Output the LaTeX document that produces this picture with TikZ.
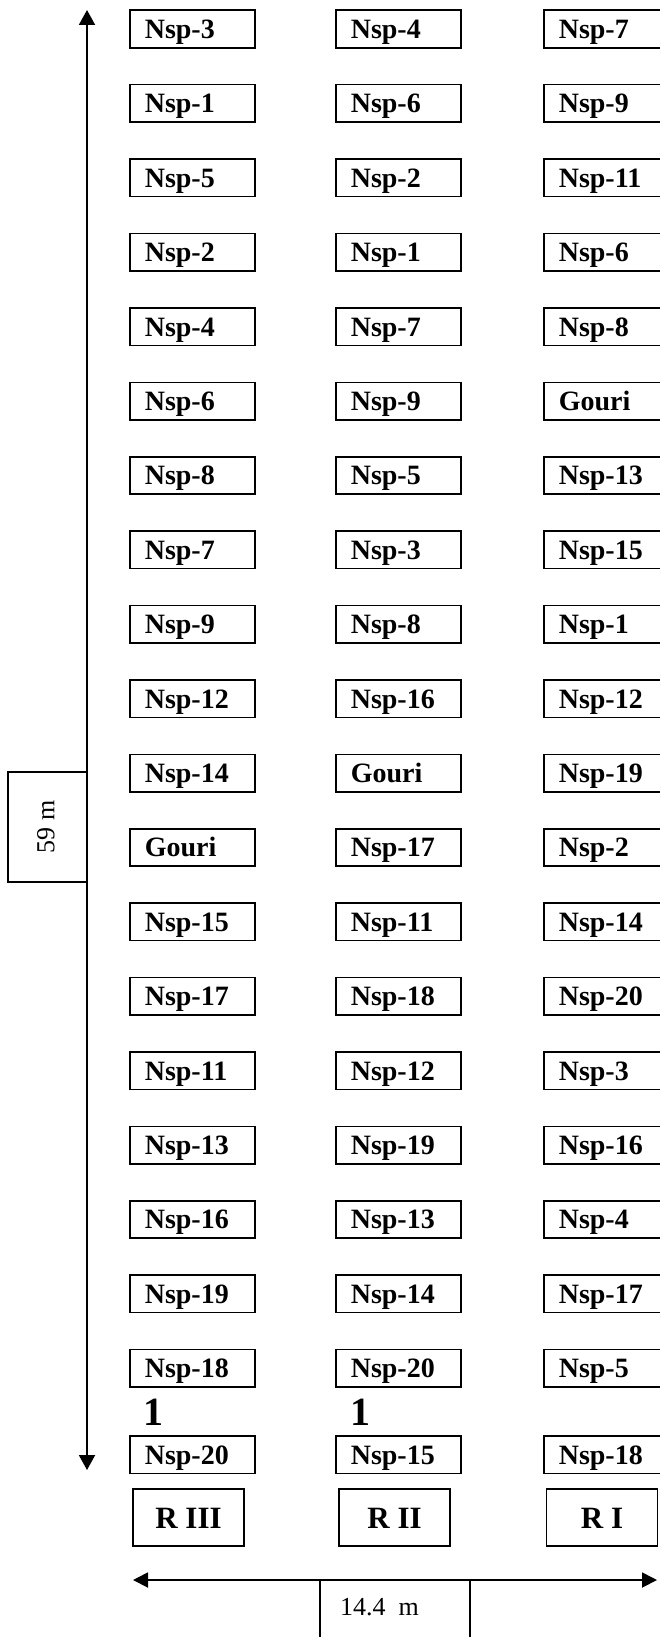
\documentclass[tikz,border=0pt]{standalone}
\usepackage{fontspec}
\setmainfont{Liberation Serif}
\usetikzlibrary{arrows.meta}
\begin{document}
\begin{tikzpicture}[x=1pt,y=-1pt,
  plotbox/.style={draw, line width=1.6pt, anchor=north west, minimum height=37.5pt,
    inner xsep=15pt, inner ysep=0pt, text width=95pt, align=left,
    font=\fontsize{28}{30}\selectfont\bfseries, text height=19pt, text depth=0pt},
  lastcol/.style={text width=100pt},
  repbox/.style={draw, line width=1.6pt, minimum width=111pt, minimum height=57pt,
    inner sep=0pt, font=\fontsize{31}{33}\selectfont\bfseries, text height=21pt, text depth=0pt},
  onelab/.style={anchor=base west, inner sep=0pt, font=\fontsize{40}{42}\selectfont\bfseries},
  dimtext/.style={inner sep=0pt, font=\fontsize{26}{28}\selectfont},
  vdim/.style={line width=2pt, {Triangle[width=16pt,length=15pt]}-{Triangle[width=16pt,length=15pt]}},
  hdim/.style={line width=1.8pt, {Triangle[width=15pt,length=15pt]}-{Triangle[width=15pt,length=15pt]}},
  thin/.style={line width=1.5pt}]
\useasboundingbox (0,0) rectangle (659,1637);
% column 1
\foreach \lab [count=\i] in {Nsp-3,Nsp-1,Nsp-5,Nsp-2,Nsp-4,Nsp-6,Nsp-8,Nsp-7,Nsp-9,Nsp-12,Nsp-14,Gouri,Nsp-15,Nsp-17,Nsp-11,Nsp-13,Nsp-16,Nsp-19,Nsp-18,Nsp-20}{
  \pgfmathsetmacro\yy{\i<20 ? 9.5+74.4*(\i-1) : 1435}
  \node[plotbox] (a\i) at (129,\yy) {\lab};
}
% column 2
\foreach \lab [count=\i] in {Nsp-4,Nsp-6,Nsp-2,Nsp-1,Nsp-7,Nsp-9,Nsp-5,Nsp-3,Nsp-8,Nsp-16,Gouri,Nsp-17,Nsp-11,Nsp-18,Nsp-12,Nsp-19,Nsp-13,Nsp-14,Nsp-20,Nsp-15}{
  \pgfmathsetmacro\yy{\i<20 ? 9.5+74.4*(\i-1) : 1435}
  \node[plotbox] (b\i) at (335,\yy) {\lab};
}
% column 3
\foreach \lab [count=\i] in {Nsp-7,Nsp-9,Nsp-11,Nsp-6,Nsp-8,Gouri,Nsp-13,Nsp-15,Nsp-1,Nsp-12,Nsp-19,Nsp-2,Nsp-14,Nsp-20,Nsp-3,Nsp-16,Nsp-4,Nsp-17,Nsp-5,Nsp-18}{
  \pgfmathsetmacro\yy{\i<20 ? 9.5+74.4*(\i-1) : 1435}
  \node[plotbox,lastcol] (c\i) at (543,\yy) {\lab};
}
% "1" labels
\node[onelab] (one1) at (143,1425) {1};
\node[onelab] (one2) at (350,1425) {1};
% replication boxes
\node[repbox] (r3) at (188.5,1517.5) {R III};
\node[repbox] (r2) at (394.5,1517.5) {R II};
\node[repbox] (r1) at (602,1517.5) {R I};
% vertical dimension
\coordinate (vt) at (87,10);
\coordinate (vb) at (87,1470);
\draw[vdim] (vt) -- (vb);
\draw[thin] (8,772) rectangle (87,882);
\node[dimtext, rotate=90] (len) at (46,827) {59 m};
% horizontal dimension
\coordinate (hl) at (133,1580);
\coordinate (hr) at (657,1580);
\draw[hdim] (hl) -- (hr);
\draw[thin] (320,1650) -- (320,1580) (470,1580) -- (470,1650);
\node[dimtext, anchor=base west] (wid) at (340,1615) {14.4\ \ m};
\end{tikzpicture}
\end{document}
